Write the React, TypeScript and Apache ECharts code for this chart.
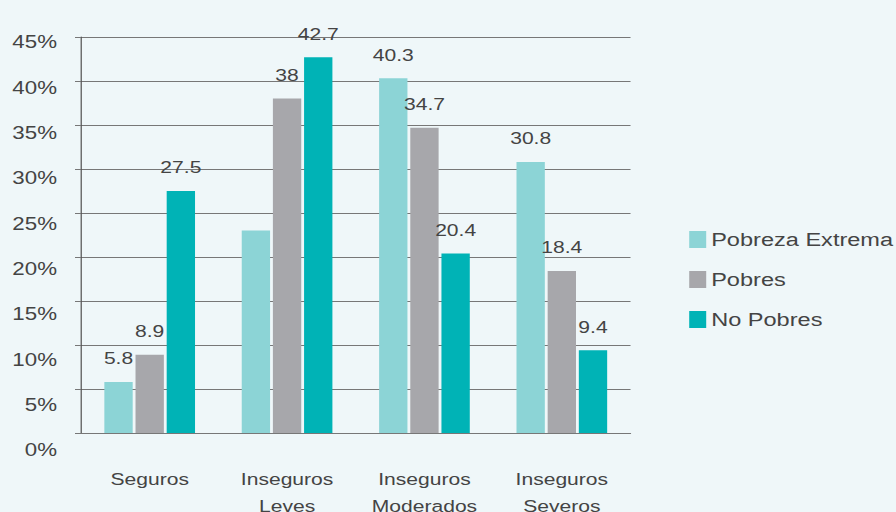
import React, { useEffect, useRef } from "react";
import * as echarts from "echarts";

const categories = ["Seguros", "Inseguros\nLeves", "Inseguros\nModerados", "Inseguros\nSeveros"];
const seriesNames = ["Pobreza Extrema", "Pobres", "No Pobres"];
const pobrezaExtrema = [5.8, 23, 40.3, 30.8];
const pobres = [8.9, 38, 34.7, 18.4];
const noPobres = [27.5, 42.7, 20.4, 9.4];
const hiddenLabels: Record<string, number[]> = { "Pobreza Extrema": [1] };
const yTicks = { min: 0, max: 45, interval: 5 };

const colors = ["#8cd4d6", "#a7a7ab", "#00b3b6"];
const FONT = "'Liberation Sans', Helvetica, Arial, sans-serif";
const SX = 1.24; // horizontal stretch of the reference picture
const W = 896 / SX;
const px = (x: number) => x / SX;

export default function App() {
  const ref = useRef<HTMLDivElement>(null);
  useEffect(() => {
    if (!ref.current) return;
    const chart = echarts.init(ref.current, null, { renderer: "svg" });
    const values = [pobrezaExtrema, pobres, noPobres];
    const series = seriesNames.map((name, i) => ({
      name,
      type: "bar",
      xAxisIndex: 0,
      yAxisIndex: 0,
      barCategoryGap: "34%",
      barGap: "10%",
      itemStyle: { color: colors[i] },
      label: {
        show: true,
        position: "top",
        distance: 15,
        color: "#444",
        fontSize: 17,
        fontFamily: FONT,
      },
      data: values[i].map((v, j) =>
        (hiddenLabels[name] || []).includes(j) ? { value: v, label: { show: false } } : v
      ),
    }));
    chart.setOption({
      animation: false,
      backgroundColor: "#eff7f9",
      textStyle: { fontFamily: FONT },
      legend: {
        orient: "vertical",
        left: px(683),
        top: 225,
        itemWidth: px(17),
        itemHeight: 17,
        itemGap: 21,
        icon: "rect",
        textStyle: { fontSize: 19, color: "#444", fontFamily: FONT, padding: [0, 0, 0, -1] },
        data: seriesNames,
      },
      grid: [
        { left: px(81), right: W - px(630), top: 37, bottom: 79, outerBoundsMode: "none", containLabel: false },
        { left: px(81), right: W - px(630), top: 42, bottom: 62, outerBoundsMode: "none", containLabel: false },
      ],
      xAxis: [
        {
          type: "category",
          gridIndex: 0,
          data: categories,
          axisLine: { lineStyle: { color: "#777" } },
          axisTick: { show: false },
          axisLabel: {
            interval: 0,
            margin: 33,
            fontSize: 17,
            lineHeight: 27,
            color: "#444",
            fontFamily: FONT,
          },
        },
        { type: "value", gridIndex: 1, show: false, min: 0, max: 1 },
      ],
      yAxis: [
        {
          type: "value",
          gridIndex: 0,
          min: yTicks.min,
          max: yTicks.max,
          interval: yTicks.interval,
          axisLine: { show: true, lineStyle: { color: "#555" } },
          axisTick: { show: true, length: px(6), lineStyle: { color: "#777" } },
          axisLabel: { show: false },
          splitLine: { lineStyle: { color: "#777", width: 1 } },
        },
        {
          type: "value",
          gridIndex: 1,
          min: yTicks.min,
          max: yTicks.max,
          interval: yTicks.interval,
          axisLine: { show: false },
          axisTick: { show: false },
          splitLine: { show: false },
          axisLabel: {
            margin: px(24),
            fontSize: 18,
            color: "#444",
            fontFamily: FONT,
            formatter: "{value}%",
          },
        },
      ],
      series,
    });
    return () => chart.dispose();
  }, []);
  return (
    <div
      style={{
        position: "fixed",
        left: 0,
        top: 0,
        width: 896,
        height: 512,
        overflow: "hidden",
        background: "#eff7f9",
      }}
    >
      <div
        ref={ref}
        style={{
          width: W,
          height: 512,
          transform: `scaleX(${SX})`,
          transformOrigin: "0 0",
        }}
      />
    </div>
  );
}
